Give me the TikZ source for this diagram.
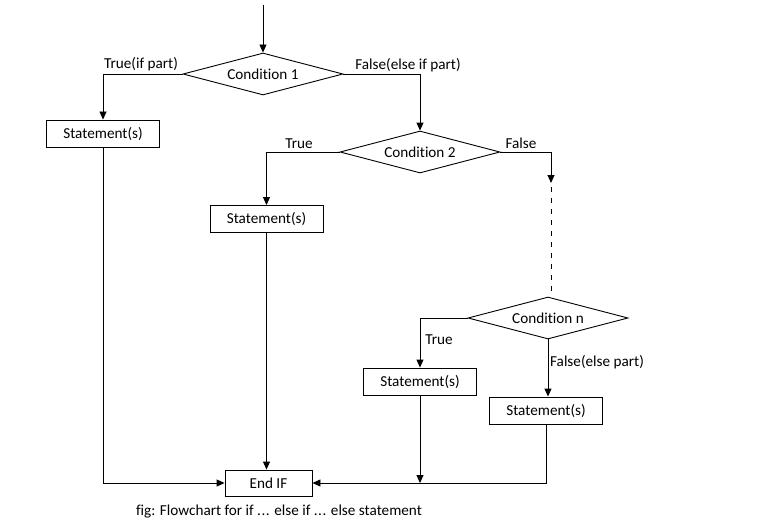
\documentclass[tikz,border=0pt]{standalone}
\usepackage{fontspec}
\setmainfont{Carlito}[Ligatures={NoCommon}]
\usetikzlibrary{arrows.meta, shapes.geometric, positioning}
\tikzset{
  >={Triangle[length=8pt,width=7pt]},
  % boxes and decisions
  stmt/.style={draw,rectangle,line width=0.9pt,minimum width=113pt,minimum height=27pt,inner sep=0pt},
  decision/.style={draw,diamond,line width=0.9pt,aspect=3.8,minimum width=160pt,minimum height=42pt,inner sep=0pt},
  flow/.style={->,line width=0.9pt},
  lbl/.style={inner sep=1pt}
}
\begin{document}
\begin{tikzpicture}[x=1pt,y=-1pt,font=\fontsize{15.2}{18}\selectfont]
  \useasboundingbox (0,0) rectangle (762,532);
  \node[decision] (c1) at (263,74) {Condition 1};
  \node[decision] (c2) at (420,152) {Condition 2};
  \node[decision] (cn) at (548,318) {Condition n};
  \node[stmt] (s1) at (103,133.5) {Statement(s)};
  \node[stmt] (s2) at (266.5,219) {Statement(s)};
  \node[stmt] (s3) at (420,381.5) {Statement(s)};
  \node[stmt] (s4) at (546,410.5) {Statement(s)};
  \node[stmt,minimum width=87pt,minimum height=26pt] (endif) at (268.5,483) {End IF};
  \coordinate (start) at (263,5);
  \coordinate (gap) at (551,183);
  \coordinate (join) at (s3.south |- endif.east);
  % connectors
  \draw[flow] (start) -- (c1.north);
  \draw[flow] (c1.west) -| (s1.north);
  \draw[flow] (c1.east) -| (c2.north);
  \draw[flow] (c2.west) -| (s2.north);
  \draw[flow] (c2.east) -| (gap);
  \draw[line width=0.9pt,dash pattern=on 5pt off 6pt,dash phase=-4pt] (gap) -- (gap |- cn.north);
  \draw[flow] (cn.west) -| (s3.north);
  \draw[flow] (cn.south) -- (cn.south |- s4.north);
  \draw[flow] (s1.south) |- (endif.west);
  \draw[flow] (s2.south) -- (s2.south |- endif.north);
  \draw[flow] (s3.south) -- (join);
  \draw[flow] (s4.south) |- (endif.east);
  % labels
  \node[lbl] (t1) at (141,64) {True(if part)};
  \node[lbl] (f1) at (408,65) {False(else if part)};
  \node[lbl] (t2) at (299,144) {True};
  \node[lbl] (f2) at (521,143) {False};
  \node[lbl] (tn) at (439,340) {True};
  \node[lbl] (fn) at (597,362) {False(else part)};
  \node[lbl] (cap) at (279,512) {fig: Flowchart for if .\kern0.5pt.\kern0.5pt. else if .\kern0.5pt.\kern0.5pt. else statement};
\end{tikzpicture}
\end{document}
